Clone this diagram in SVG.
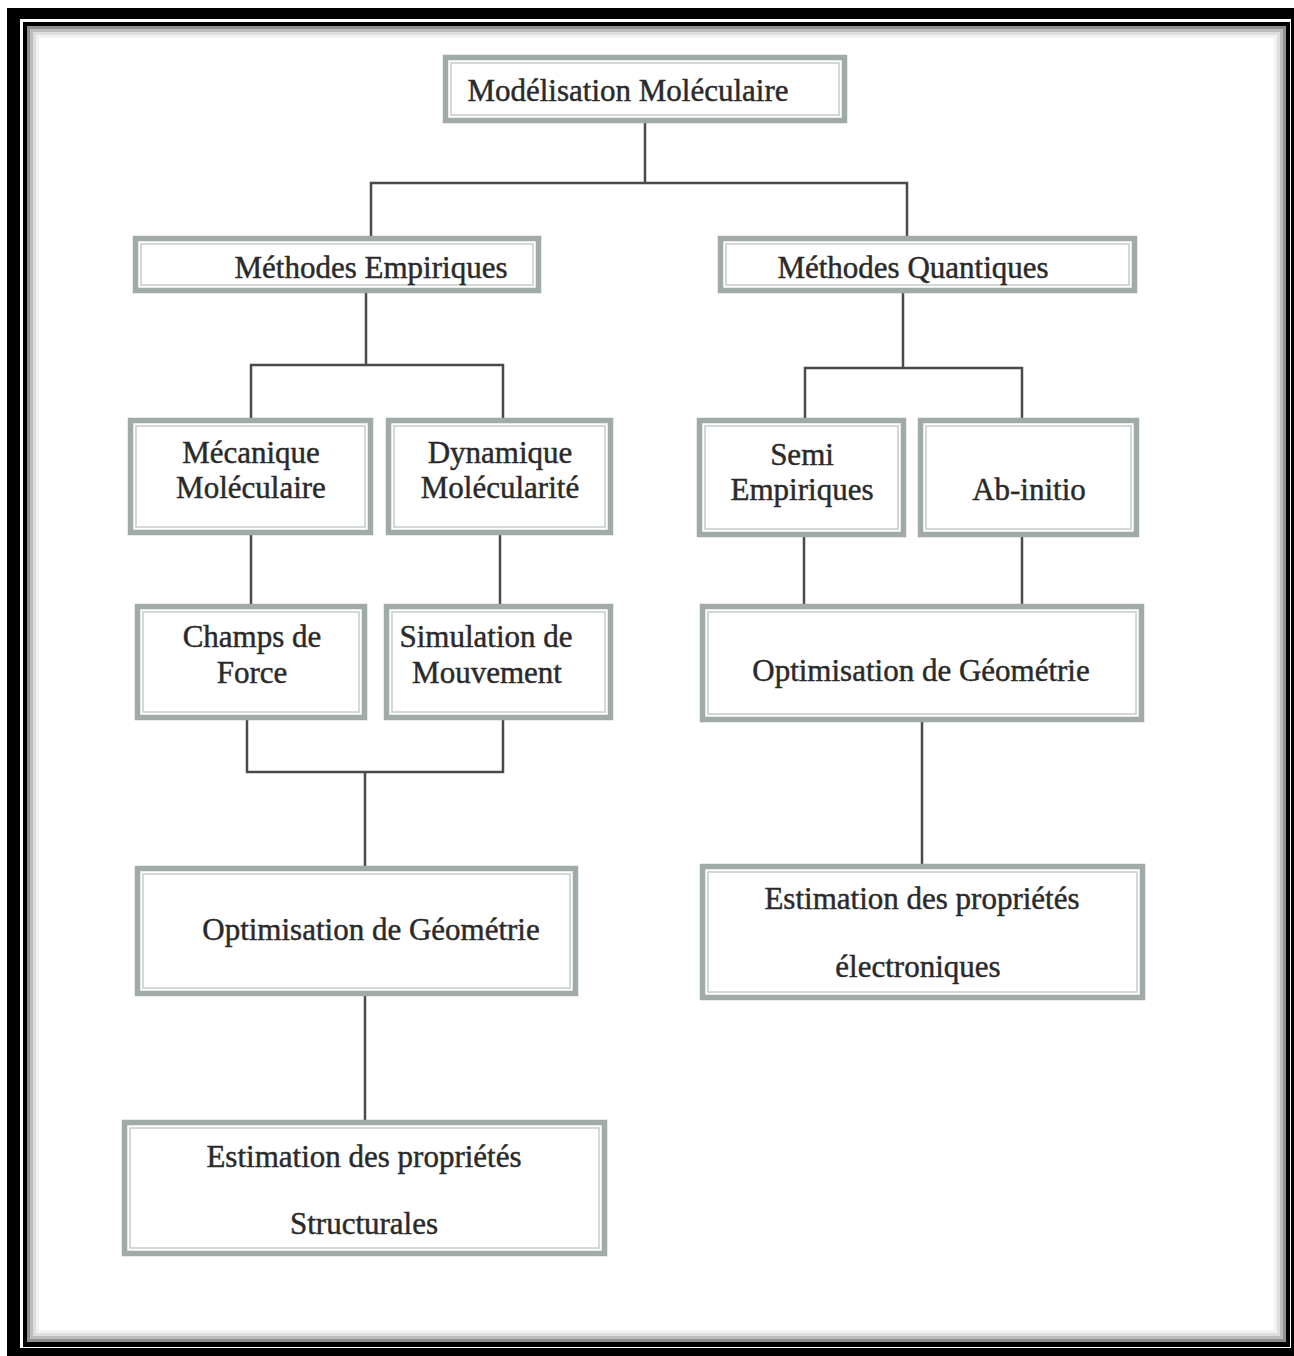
<svg xmlns="http://www.w3.org/2000/svg" width="1294" height="1356" viewBox="0 0 1294 1356">
<style>
.box{fill:#fff;stroke:#a0aba8;stroke-width:5.5}
.inner{fill:none;stroke:#c3ccc9;stroke-width:1.5}
.lbl{font-family:"Liberation Serif","Times New Roman",serif;font-size:31px;fill:#2a2a2a;stroke:#2a2a2a;stroke-width:0.45;text-anchor:middle}
.conn{fill:none;stroke:#4a4a4a;stroke-width:2.5}
</style>
<rect x="0" y="0" width="1294" height="1356" fill="#fff"/>
<g id="frame">
<rect x="7" y="8" width="1287" height="1348" fill="#000"/>
<rect x="20" y="19" width="1271" height="1329" fill="#fff"/>
<rect x="23" y="22" width="1267" height="1325" fill="#000"/>
<rect x="27" y="26" width="1259" height="1316" fill="#fff"/>
<rect x="28.5" y="27.5" width="1256" height="1313" fill="none" stroke="#8f8f8f" stroke-width="3"/>
<rect x="31.5" y="30.5" width="1250" height="1307" fill="none" stroke="#bdbdbd" stroke-width="3"/>
<rect x="34.5" y="33.5" width="1244" height="1301" fill="none" stroke="#dedede" stroke-width="3"/>
<rect x="37.5" y="36.5" width="1238" height="1295" fill="none" stroke="#f2f2f2" stroke-width="3"/>
</g>
<g id="connectors">
<path class="conn" d="M645 123 V183 M371 236 V183 H907 V236"/>
<path class="conn" d="M366 293 V365 M251 418 V365 H503 V418"/>
<path class="conn" d="M903 293 V368 M805 418 V368 H1022 V418"/>
<path class="conn" d="M251 535 V604 M500 535 V604"/>
<path class="conn" d="M804 537 V604 M1022 537 V604"/>
<path class="conn" d="M247 720 V772 H503 V720 M365 772 V866"/>
<path class="conn" d="M922 722 V864"/>
<path class="conn" d="M365 996 V1120"/>
</g>
<g id="n1">
<rect class="box" x="445.5" y="57.5" width="399" height="63"/>
<rect class="inner" x="451" y="63" width="388" height="52"/>
<text class="lbl" x="628" y="101">Modélisation Moléculaire</text>
</g>
<g id="n2">
<rect class="box" x="135.5" y="238.5" width="403" height="52"/>
<rect class="inner" x="141" y="244" width="392" height="41"/>
<text class="lbl" x="371" y="278">Méthodes Empiriques</text>
</g>
<g id="n3">
<rect class="box" x="720.5" y="238.5" width="414" height="52"/>
<rect class="inner" x="726" y="244" width="403" height="41"/>
<text class="lbl" x="913" y="278">Méthodes Quantiques</text>
</g>
<g id="n4">
<rect class="box" x="130.5" y="420.5" width="240" height="112"/>
<rect class="inner" x="136" y="426" width="229" height="101"/>
<text class="lbl" x="251" y="463">Mécanique</text>
<text class="lbl" x="251" y="498">Moléculaire</text>
</g>
<g id="n5">
<rect class="box" x="388.5" y="420.5" width="222" height="112"/>
<rect class="inner" x="394" y="426" width="211" height="101"/>
<text class="lbl" x="500" y="463">Dynamique</text>
<text class="lbl" x="500" y="498">Molécularité</text>
</g>
<g id="n6">
<rect class="box" x="699.5" y="420.5" width="204" height="114"/>
<rect class="inner" x="705" y="426" width="193" height="103"/>
<text class="lbl" x="802" y="465">Semi</text>
<text class="lbl" x="802" y="500">Empiriques</text>
</g>
<g id="n7">
<rect class="box" x="920.5" y="420.5" width="216" height="114"/>
<rect class="inner" x="926" y="426" width="205" height="103"/>
<text class="lbl" x="1029" y="500">Ab-initio</text>
</g>
<g id="n8">
<rect class="box" x="137.5" y="606.5" width="227" height="111"/>
<rect class="inner" x="143" y="612" width="216" height="100"/>
<text class="lbl" x="252" y="647">Champs de</text>
<text class="lbl" x="252" y="683">Force</text>
</g>
<g id="n9">
<rect class="box" x="386.5" y="606.5" width="224" height="111"/>
<rect class="inner" x="392" y="612" width="213" height="100"/>
<text class="lbl" x="486" y="647">Simulation de</text>
<text class="lbl" x="487" y="683">Mouvement</text>
</g>
<g id="n10">
<rect class="box" x="702.5" y="606.5" width="439" height="113"/>
<rect class="inner" x="708" y="612" width="428" height="102"/>
<text class="lbl" x="921" y="681">Optimisation de Géométrie</text>
</g>
<g id="n11">
<rect class="box" x="137.5" y="868.5" width="438" height="125"/>
<rect class="inner" x="143" y="874" width="427" height="114"/>
<text class="lbl" x="371" y="940">Optimisation de Géométrie</text>
</g>
<g id="n12">
<rect class="box" x="702.5" y="866.5" width="440" height="131"/>
<rect class="inner" x="708" y="872" width="429" height="120"/>
<text class="lbl" x="922" y="909">Estimation des propriétés</text>
<text class="lbl" x="918" y="977">électroniques</text>
</g>
<g id="n13">
<rect class="box" x="124.5" y="1122.5" width="480" height="131"/>
<rect class="inner" x="130" y="1128" width="469" height="120"/>
<text class="lbl" x="364" y="1167">Estimation des propriétés</text>
<text class="lbl" x="364" y="1234">Structurales</text>
</g>
</svg>
